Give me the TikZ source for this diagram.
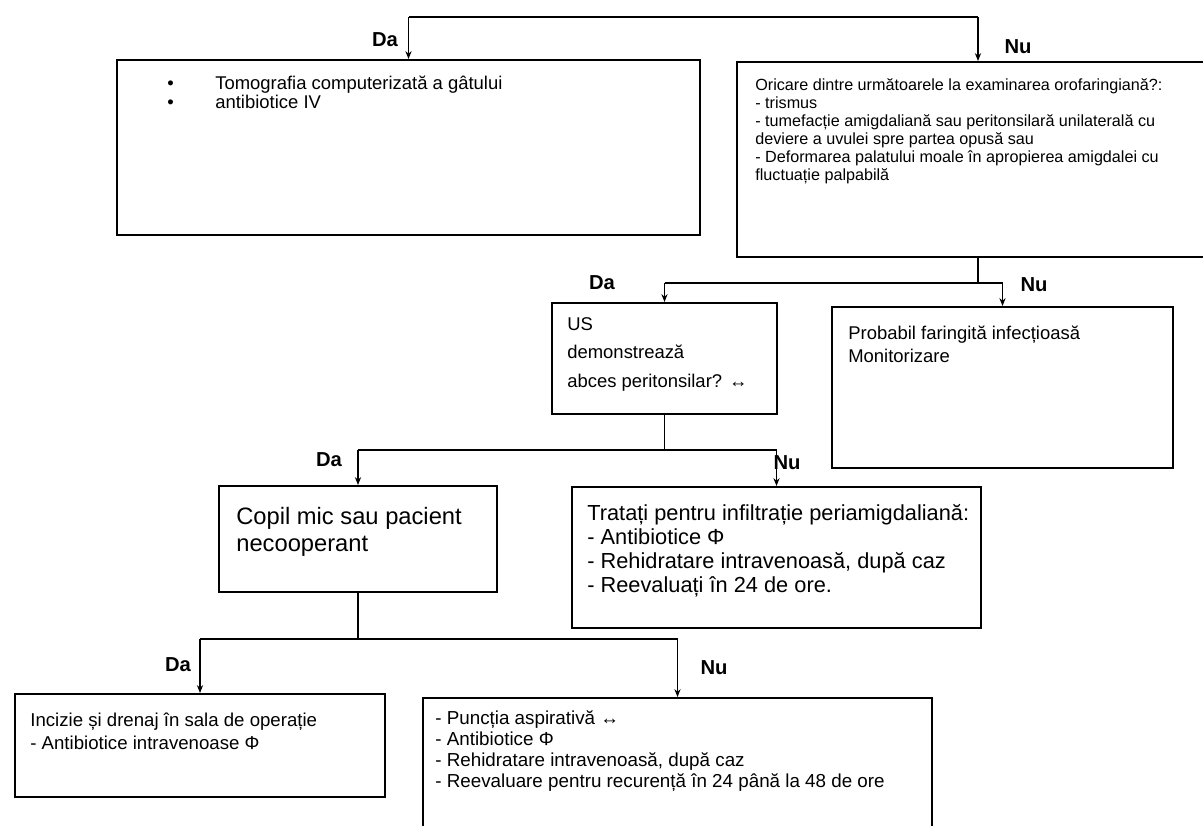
\documentclass[tikz,border=0pt]{standalone}
\usepackage{fontspec}
\setmainfont{Liberation Sans}
\usetikzlibrary{fit,arrows.meta}
\begin{document}
\begin{tikzpicture}[x=0.02cm, y=-0.02cm, every node/.style={inner sep=0pt}]
\tikzset{box/.style={draw, line width=1.1pt}, txt/.style={anchor=north west, align=left}, ans/.style={font=\bfseries\fontsize{11.5}{13}\selectfont}, link/.style={line width=0.75pt}, arr/.style={link, -{Stealth[length=4.5pt,width=3.5pt]}}}
\useasboundingbox (0,0) rectangle (1203,825);
% boxes
\node[box, fit={(117,60) (700,235)}] (ct) {}; \node[box, fit={(737,62) (1219,257)}] (oro) {};
\node[box, fit={(552,303) (777,414)}] (us) {}; \node[box, fit={(832,307) (1173,468)}] (far) {};
\node[box, fit={(219,486) (497,592)}] (cop) {}; \node[box, fit={(572,487) (981,628)}] (inf) {};
\node[box, fit={(15,694) (385,797)}] (inc) {}; \node[box, fit={(423,698) (932,835)}] (pun) {};
% texts
\node[txt, font=\fontsize{10.5}{10.4}\selectfont] (ct-t) at (167,76) {\makebox[0.96cm][l]{•}Tomografia computerizată a gâtului\\ \makebox[0.96cm][l]{•}antibiotice IV};
\node[txt, font=\fontsize{9.2}{10.3}\selectfont] (oro-t) at (755,78) {Oricare dintre următoarele la examinarea orofaringiană?:\\ - trismus\\ - tumefacție amigdaliană sau peritonsilară unilaterală cu\\ deviere a uvulei spre partea opusă sau\\ - Deformarea palatului moale în apropierea amigdalei cu\\ fluctuație palpabilă};
\node[txt, font=\fontsize{10.5}{16.2}\selectfont] (us-t) at (567,317) {US\\ demonstrează\\ abces peritonsilar? ↔};
\node[txt, font=\fontsize{10.5}{13.1}\selectfont] (far-t) at (848,326) {Probabil faringită infecțioasă\\ Monitorizare};
\node[txt, font=\fontsize{13.5}{15.4}\selectfont] (cop-t) at (236,507) {Copil mic sau pacient\\ necooperant};
\node[txt, font=\fontsize{12.4}{13.7}\selectfont] (inf-t) at (587,504) {Tratați pentru infiltrație periamigdaliană:\\ - Antibiotice Φ\\ - Rehidratare intravenoasă, după caz\\ - Reevaluați în 24 de ore.};
\node[txt, font=\fontsize{10.6}{13.1}\selectfont] (inc-t) at (30,713) {Incizie și drenaj în sala de operație\\ - Antibiotice intravenoase Φ};
\node[txt, font=\fontsize{10.7}{12}\selectfont] (pun-t) at (435,710) {- Puncția aspirativă ↔\\ - Antibiotice Φ\\ - Rehidratare intravenoasă, după caz\\ - Reevaluare pentru recurență în 24 până la 48 de ore};
% level 1
\coordinate (j1) at (700,17);
\draw[link] (ct.north |- j1) -- (oro.north |- j1); \draw[arr] (ct.north |- j1) -- (ct.north); \draw[arr] (oro.north |- j1) -- (oro.north);
\node[ans] (da1) at (385,40) {Da}; \node[ans] (nu1) at (1018,47) {Nu};
% level 2
\path (oro.south) ++(0,25) coordinate (j2);
\draw[link] (oro.south) -- (j2); \draw[link] (us.north |- j2) -- (far.north |- j2); \draw[arr] (us.north |- j2) -- (us.north); \draw[arr] (far.north |- j2) -- (far.north);
\node[ans] (da2) at (602,283) {Da}; \node[ans] (nu2) at (1034,285) {Nu};
% level 3
\path (us.south) ++(0,35) coordinate (j3);
\draw[link] (us.south) -- (j3); \draw[link] (cop.north |- j3) -- (inf.north |- j3); \draw[arr] (cop.north |- j3) -- (cop.north); \draw[arr] (inf.north |- j3) -- (inf.north);
\node[ans] (da3) at (329,460) {Da}; \node[ans] (nu3) at (787,463) {Nu};
% level 4
\path (cop.south) ++(0,46) coordinate (j4);
\draw[link] (cop.south) -- (j4); \draw[link] (inc.north |- j4) -- (pun.north |- j4); \draw[arr] (inc.north |- j4) -- (inc.north); \draw[arr] (pun.north |- j4) -- (pun.north);
\node[ans] (da4) at (178,665) {Da}; \node[ans] (nu4) at (714,668) {Nu};
\end{tikzpicture}
\end{document}
